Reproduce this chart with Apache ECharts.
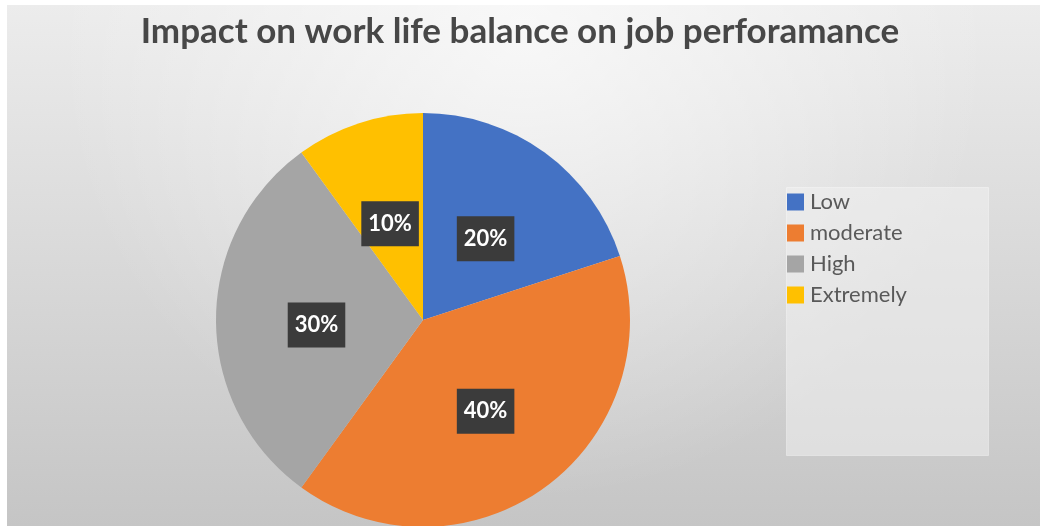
<!DOCTYPE html>
<html>
<head>
<meta charset="utf-8">
<script src="https://cdn.jsdelivr.net/npm/echarts@6/dist/echarts.min.js"></script>
<style>
  html, body { margin: 0; padding: 0; background: #ffffff; }
  #chart { width: 1040px; height: 526px; }
</style>
</head>
<body>
<div id="chart"></div>
<script>
// Survey shares: impact of work-life balance on job performance
const categories = ['Low', 'moderate', 'High', 'Extremely'];
const shares = [20, 40, 30, 10];
const sliceColors = ['#4472C4', '#ED7D31', '#A5A5A5', '#FFC000'];
const chartTitle = 'Impact on work life balance on job perforamance';

const chart = echarts.init(document.getElementById('chart'), null, { renderer: 'canvas' });

const pieData = categories.map((name, i) => ({
  name: name,
  value: shares[i],
  itemStyle: { color: sliceColors[i] }
}));

chart.setOption({
  backgroundColor: '#ffffff',
  animation: false,
  graphic: [
    {
      // chart area with soft grey gradient
      type: 'rect',
      left: 7, top: 5,
      shape: { width: 1033, height: 521 },
      style: {
        fill: new echarts.graphic.LinearGradient(0, 0, 0, 1, [
          { offset: 0, color: '#ececec' },
          { offset: 1, color: '#c5c5c5' }
        ])
      },
      z: -10
    },
    {
      // light highlight at top centre
      type: 'rect',
      left: 7, top: 5,
      shape: { width: 1033, height: 521 },
      style: {
        fill: new echarts.graphic.RadialGradient(0.5, 0.05, 0.9, [
          { offset: 0, color: 'rgba(255,255,255,0.65)' },
          { offset: 1, color: 'rgba(255,255,255,0)' }
        ])
      },
      z: -9
    },
    {
      // legend panel
      type: 'rect',
      left: 786, top: 187,
      shape: { width: 202, height: 268 },
      style: {
        fill: 'rgba(240,240,240,0.55)',
        stroke: 'rgba(255,255,255,0.35)',
        lineWidth: 1
      },
      z: -8
    }
  ],
  title: {
    text: chartTitle,
    left: 'center',
    top: 14,
    padding: 0,
    textStyle: {
      fontFamily: 'Lato',
      fontWeight: 'bold',
      fontSize: 35,
      color: '#474747'
    }
  },
  legend: {
    orient: 'vertical',
    left: 787,
    top: 191,
    padding: 0,
    itemWidth: 17,
    itemHeight: 17,
    itemGap: 9,
    icon: 'rect',
    selectedMode: false,
    data: categories,
    textStyle: {
      fontFamily: 'Lato',
      fontSize: 22,
      color: '#595959',
      padding: [0, 0, 0, 1]
    }
  },
  series: [{
    type: 'pie',
    center: [423, 320],
    radius: 207,
    startAngle: 90,
    clockwise: true,
    avoidLabelOverlap: false,
    data: pieData,
    itemStyle: { borderWidth: 0 },
    emphasis: { disabled: true },
    label: {
      show: true,
      position: 'inside',
      formatter: p => p.value + '%',
      fontFamily: 'Lato',
      fontWeight: 'bold',
      fontSize: 22,
      color: '#ffffff',
      backgroundColor: '#3b3b3b',
      padding: [12, 7, 11, 7]
    },
    labelLayout: { dy: 5 },
    labelLine: { show: false }
  }]
});
</script>
</body>
</html>
